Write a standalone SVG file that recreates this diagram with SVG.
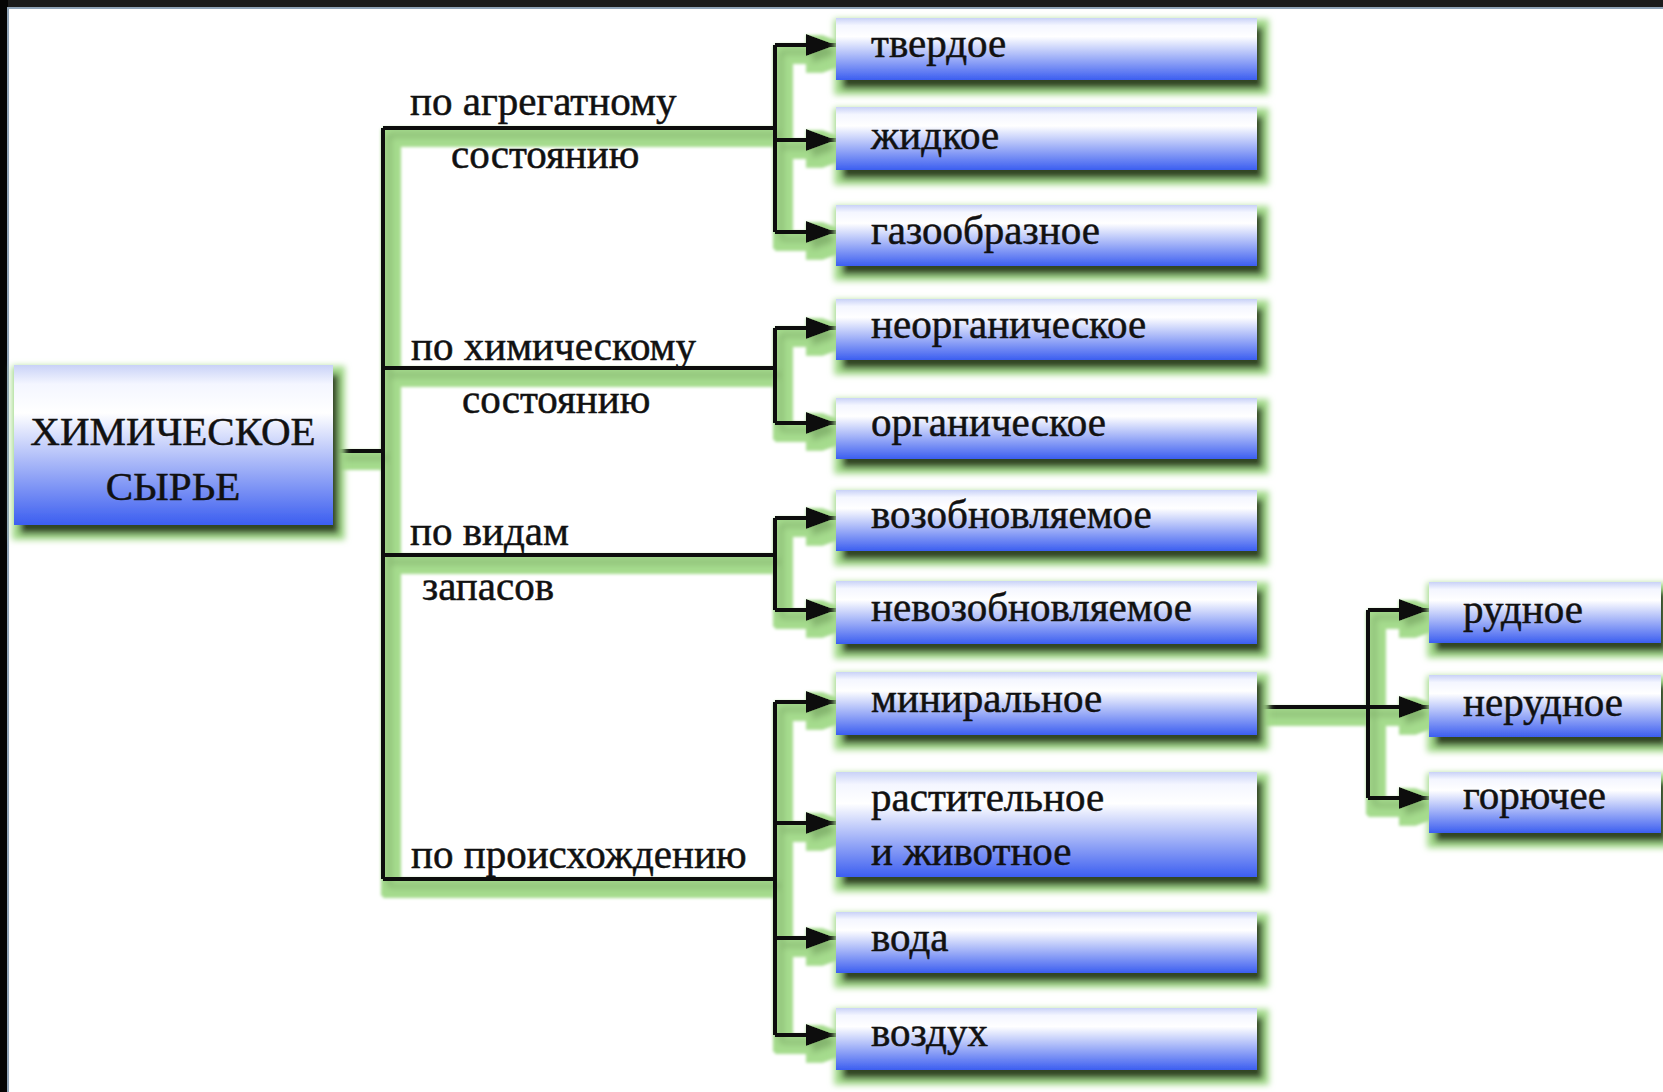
<svg xmlns="http://www.w3.org/2000/svg" width="1663" height="1092" viewBox="0 0 1663 1092">
<defs>
<linearGradient id="boxg" x1="0" y1="0" x2="0" y2="1">
<stop offset="0" stop-color="#c9d2f7"/>
<stop offset="0.12" stop-color="#f4f6ff"/>
<stop offset="0.3" stop-color="#ffffff"/>
<stop offset="1" stop-color="#3c5ef0"/>
</linearGradient>
<filter id="boxsh" x="-10%" y="-20%" width="125%" height="160%">
<feMorphology in="SourceAlpha" operator="dilate" radius="7" result="d"/>
<feOffset in="d" dx="5" dy="8" result="do"/>
<feGaussianBlur in="do" stdDeviation="3" result="db"/>
<feFlood flood-color="#a6dc8e"/>
<feComposite in2="db" operator="in" result="green"/>
<feOffset in="SourceAlpha" dx="6" dy="9" result="so"/>
<feGaussianBlur in="so" stdDeviation="3" result="sb"/>
<feFlood flood-color="#1f2a12" flood-opacity="0.95"/>
<feComposite in2="sb" operator="in" result="dark"/>
<feMerge><feMergeNode in="green"/><feMergeNode in="dark"/><feMergeNode in="SourceGraphic"/></feMerge>
</filter>
<filter id="linesh" filterUnits="userSpaceOnUse" x="0" y="0" width="1663" height="1092">
<feMorphology in="SourceAlpha" operator="dilate" radius="8" result="d"/>
<feOffset in="d" dx="8" dy="9" result="do"/>
<feGaussianBlur in="do" stdDeviation="1.5" result="db"/>
<feFlood flood-color="#a6dc8e"/>
<feComposite in2="db" operator="in" result="green"/>
<feOffset in="SourceAlpha" dx="6" dy="7" result="so"/>
<feGaussianBlur in="so" stdDeviation="3" result="sb"/>
<feFlood flood-color="#5f8a48" flood-opacity="0.55"/>
<feComposite in2="sb" operator="in" result="dark"/>
<feMerge><feMergeNode in="green"/><feMergeNode in="dark"/><feMergeNode in="SourceGraphic"/></feMerge>
</filter>
<marker id="arr" markerUnits="userSpaceOnUse" markerWidth="32" markerHeight="24" refX="30" refY="12" orient="auto">
<path d="M0 1 L30 12 L0 23 Z" fill="#0a0a0a"/>
</marker>
</defs>
<style>
.box{fill:url(#boxg);filter:url(#boxsh)}
.t{font-family:"Liberation Serif","Times New Roman",serif;fill:#111;stroke:#111;stroke-width:0.5;font-size:41px}
.lab{font-family:"Liberation Serif","Times New Roman",serif;fill:#111;stroke:#111;stroke-width:0.5;font-size:41px}
.ln{fill:none;stroke:#0a0a0a;stroke-width:4}
.ar{fill:none;stroke:#0a0a0a;stroke-width:4;marker-end:url(#arr)}
</style>
<rect x="0" y="0" width="1663" height="1092" fill="#1b1b1b"/>
<rect x="0" y="0" width="8" height="1092" fill="#050505"/>
<rect x="7" y="7" width="1656" height="1085" fill="#90a4b8"/>
<rect x="9" y="9" width="1654" height="1083" fill="#ffffff"/>

<g id="connectors" filter="url(#linesh)">
<path class="ln" d="M333 451 H383"/>
<path class="ln" d="M383 128 V879"/>
<path class="ln" d="M383 128 H775 M383 368 H775 M383 555 H775 M383 879 H775"/>
<path class="ln" d="M775 45 V232 M775 328 V423 M775 518 V610 M775 702 V1035"/>
<path class="ar" d="M775 45 H836"/>
<path class="ar" d="M775 140 H836"/>
<path class="ar" d="M775 232 H836"/>
<path class="ar" d="M775 328 H836"/>
<path class="ar" d="M775 423 H836"/>
<path class="ar" d="M775 518 H836"/>
<path class="ar" d="M775 610 H836"/>
<path class="ar" d="M775 702 H836"/>
<path class="ar" d="M775 823 H836"/>
<path class="ar" d="M775 938 H836"/>
<path class="ar" d="M775 1035 H836"/>
<path class="ln" d="M1257 707 H1368 M1368 610 V798"/>
<path class="ar" d="M1368 610 H1429"/>
<path class="ar" d="M1368 707 H1429"/>
<path class="ar" d="M1368 798 H1429"/>
</g>

<g id="labels">
<text class="lab" x="410" y="115">по агрегатному</text>
<text class="lab" x="451" y="168">состоянию</text>
<text class="lab" x="411" y="360">по химическому</text>
<text class="lab" x="462" y="413">состоянию</text>
<text class="lab" x="410" y="545">по видам</text>
<text class="lab" x="422" y="600">запасов</text>
<text class="lab" x="411" y="868">по происхождению</text>
</g>

<g id="root">
<rect class="box" x="14" y="365" width="319" height="160"/>
<text class="t" x="173" y="445" text-anchor="middle" font-size="45">ХИМИЧЕСКОЕ</text>
<text class="t" x="173" y="500" text-anchor="middle" font-size="45">СЫРЬЕ</text>
</g>
<g id="n-tverdoe"><rect class="box" x="836" y="18" width="421" height="62"/><text class="t" x="871" y="57">твердое</text></g>
<g id="n-zhidkoe"><rect class="box" x="836" y="107" width="421" height="63"/><text class="t" x="871" y="149">жидкое</text></g>
<g id="n-gazoobraznoe"><rect class="box" x="836" y="205" width="421" height="61"/><text class="t" x="871" y="244">газообразное</text></g>
<g id="n-neorganicheskoe"><rect class="box" x="836" y="299" width="421" height="61"/><text class="t" x="871" y="338">неорганическое</text></g>
<g id="n-organicheskoe"><rect class="box" x="836" y="398" width="421" height="61"/><text class="t" x="871" y="436">органическое</text></g>
<g id="n-vozobnovlyaemoe"><rect class="box" x="836" y="490" width="421" height="61"/><text class="t" x="871" y="528">возобновляемое</text></g>
<g id="n-nevozobnovlyaemoe"><rect class="box" x="836" y="581" width="421" height="63"/><text class="t" x="871" y="621">невозобновляемое</text></g>
<g id="n-mineralnoe"><rect class="box" x="836" y="672" width="421" height="63"/><text class="t" x="871" y="712">миниральное</text></g>
<g id="n-rastitelnoe"><rect class="box" x="836" y="772" width="421" height="105"/><text class="t" x="871" y="811">растительное</text><text class="t" x="871" y="865">и животное</text></g>
<g id="n-voda"><rect class="box" x="836" y="912" width="421" height="61"/><text class="t" x="871" y="951">вода</text></g>
<g id="n-vozduh"><rect class="box" x="836" y="1008" width="421" height="62"/><text class="t" x="871" y="1046">воздух</text></g>
<g id="n-rudnoe"><rect class="box" x="1429" y="582" width="232" height="61"/><text class="t" x="1463" y="623">рудное</text></g>
<g id="n-nerudnoe"><rect class="box" x="1429" y="675" width="232" height="62"/><text class="t" x="1463" y="716">нерудное</text></g>
<g id="n-goryuchee"><rect class="box" x="1429" y="772" width="232" height="61"/><text class="t" x="1463" y="809">горючее</text></g>
</svg>
